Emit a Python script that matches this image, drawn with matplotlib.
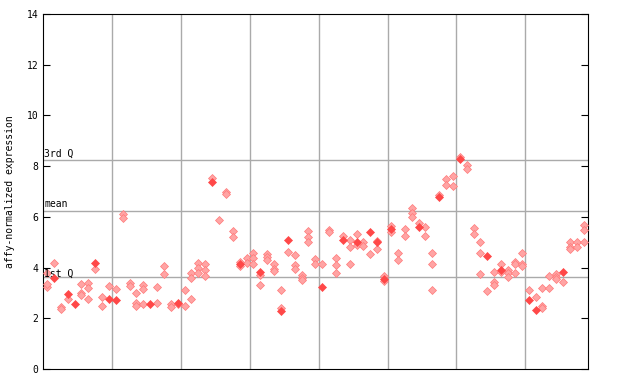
import numpy as np
import matplotlib
matplotlib.use("Agg")
import matplotlib.pyplot as plt

# one entry per sample column: replicate values, and which one is drawn solid
values = [
    [3.25, 3.35, 3.8], [4.2, 3.6], [2.45, 2.35], [2.95, 2.78], [2.57],
    [3.35, 3.0, 2.9], [3.38, 3.2, 2.78], [4.17, 3.95], [2.82, 2.47], [3.27, 2.78],
    [3.15, 2.73], [6.1, 5.95], [3.4, 3.28], [2.98, 2.6, 2.5], [3.3, 3.15, 2.57],
    [2.55], [3.25, 2.62], [4.07, 3.75], [2.55, 2.45], [2.62, 2.55],
    [3.1, 2.48], [3.8, 3.58, 2.75], [4.2, 4.0, 3.77], [4.16, 3.92, 3.67], [7.54, 7.36],
    [5.89], [7.0, 6.92], [5.46, 5.22], [4.22, 4.15, 4.05], [4.39, 4.2],
    [4.59, 4.39, 4.16], [3.83, 3.72, 3.33], [4.54, 4.4, 4.31], [4.16, 3.96, 3.87], [3.1, 2.39, 2.3],
    [5.09, 4.63], [4.51, 4.12, 3.96], [3.72, 3.6, 3.5], [5.43, 5.22, 5.02], [4.35, 4.16],
    [4.16, 3.24], [5.5, 5.42], [4.39, 4.12, 3.8], [5.26, 5.1], [5.1, 4.83, 4.16],
    [5.34, 4.99, 4.9], [5.02, 4.87], [5.41, 4.55], [5.06, 4.99, 4.75], [3.68, 3.54, 3.47],
    [5.65, 5.53, 5.42], [4.59, 4.31], [5.53, 5.26], [6.36, 6.17, 6.01], [5.77, 5.59],
    [5.61, 5.26], [4.59, 4.16, 3.13], [6.85, 6.78], [7.5, 7.27], [7.62, 7.23],
    [8.38, 8.29], [8.05, 7.9], [5.58, 5.34], [5.02, 4.59, 3.76], [4.46, 3.06],
    [3.84, 3.45, 3.33], [4.16, 3.91, 3.83], [3.9, 3.79, 3.61], [4.22, 4.16, 3.77], [4.59, 4.16, 4.08],
    [3.1, 2.72], [2.82, 2.33], [3.18, 2.5, 2.39], [3.68, 3.18], [3.74, 3.63, 3.54],
    [3.83, 3.45], [5.02, 4.81, 4.72], [4.99, 4.81], [5.69, 5.47, 4.99],
]
solid = [
    -1, 1, -1, 0, 0, -1, -1, 0, -1, 1,
    1, -1, -1, -1, -1, 0, -1, -1, -1, 0,
    -1, -1, -1, -1, 1, -1, -1, -1, 1, -1,
    -1, 0, -1, -1, 2, 0, -1, -1, -1, -1,
    1, -1, -1, 1, -1, 1, -1, 0, 1, 1,
    1, -1, -1, -1, 1, -1, -1, 1, -1, -1,
    1, -1, -1, -1, 0, -1, 1, -1, -1, -1,
    1, 1, -1, -1, -1, 0, -1, -1, -1,
]
q1, mean, q3 = 3.62, 6.22, 8.23
group_edges = [9.5, 19.5, 29.5, 39.5, 49.5, 59.5, 69.5]

fig = plt.figure(figsize=(6.4, 3.84), dpi=100)
ax = fig.add_axes([43/640, 15/384, 545/640, 355/384])

for e in group_edges:
    ax.axvline(e, color='#aaaaaa', lw=1, zorder=1)
for h in (q1, mean, q3):
    ax.axhline(h, color='#aaaaaa', lw=1, zorder=1)

hx, hy, sx, sy = [], [], [], []
for i, (vals, s) in enumerate(zip(values, solid)):
    for j, v in enumerate(vals):
        if j == s:
            sx.append(i); sy.append(v)
        else:
            hx.append(i); hy.append(v)

ax.plot(hx, hy, 'D', ms=3.7, mfc='#ffa4a4', mec='#ff7878', mew=0.5, zorder=3)
ax.plot(sx, sy, 'D', ms=4.0, mfc='#ff4848', mec='#ff4848', mew=0.5, zorder=4)

mono = 'DejaVu Sans Mono'
ax.text(0.002, q3 + 0.08, '3rd Q', transform=ax.get_yaxis_transform(),
        fontsize=7, family=mono, va='bottom', ha='left')
ax.text(0.002, mean + 0.08, 'mean', transform=ax.get_yaxis_transform(),
        fontsize=7, family=mono, va='bottom', ha='left')
ax.text(0.002, q1 - 0.05, '1st Q', transform=ax.get_yaxis_transform(),
        fontsize=7, family=mono, va='bottom', ha='left')

ax.set_xlim(-0.58, 78.63)
ax.set_ylim(0, 14)
ax.set_yticks(np.arange(0, 15, 2))
ax.set_xticks([])
ax.tick_params(axis='y', direction='in', length=5, right=True, labelsize=7)
for lab in ax.get_yticklabels():
    lab.set_family(mono)
ax.set_ylabel('affy-normalized expression', fontsize=7, family=mono, labelpad=8)
for sp in ax.spines.values():
    sp.set_color('black')

fig.savefig('out.png', dpi=100)
